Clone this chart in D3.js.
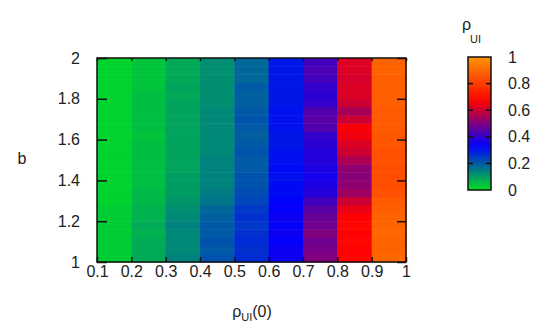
<!DOCTYPE html>
<html>
<head>
<meta charset="utf-8">
<script src="https://cdn.jsdelivr.net/npm/d3@7"></script>
<style>
  body { margin: 0; background: #fff; }
  text { font-family: "Liberation Sans", Arial, sans-serif; fill: #222; }
</style>
</head>
<body>
<svg id="chart" width="540" height="328"></svg>
<script>
// x: rho_UI(0) column starts, y: b row starts (cell height 0.04)
var rho0Values = [0.1, 0.2, 0.3, 0.4, 0.5, 0.6, 0.7, 0.8, 0.9];
var bValues = [1.00, 1.04, 1.08, 1.12, 1.16, 1.20, 1.24, 1.28, 1.32, 1.36, 1.40, 1.44, 1.48,
               1.52, 1.56, 1.60, 1.64, 1.68, 1.72, 1.76, 1.80, 1.84, 1.88, 1.92, 1.96];
// rho_UI, one row per b value (bottom to top), one entry per rho_UI(0) column
var rhoUI = [
  [0.03, 0.08, 0.14, 0.21, 0.27, 0.35, 0.50, 0.68, 0.90],
  [0.03, 0.08, 0.13, 0.20, 0.26, 0.35, 0.49, 0.67, 0.89],
  [0.03, 0.08, 0.13, 0.21, 0.27, 0.34, 0.48, 0.68, 0.89],
  [0.03, 0.07, 0.13, 0.20, 0.26, 0.35, 0.50, 0.67, 0.90],
  [0.03, 0.08, 0.14, 0.20, 0.25, 0.34, 0.48, 0.68, 0.89],
  [0.03, 0.07, 0.13, 0.19, 0.26, 0.35, 0.47, 0.67, 0.89],
  [0.03, 0.07, 0.12, 0.18, 0.25, 0.34, 0.45, 0.64, 0.88],
  [0.02, 0.06, 0.11, 0.16, 0.23, 0.33, 0.42, 0.60, 0.87],
  [0.02, 0.06, 0.10, 0.15, 0.22, 0.32, 0.38, 0.54, 0.85],
  [0.02, 0.05, 0.10, 0.14, 0.21, 0.32, 0.37, 0.52, 0.84],
  [0.02, 0.05, 0.10, 0.14, 0.21, 0.31, 0.36, 0.51, 0.84],
  [0.02, 0.05, 0.09, 0.14, 0.20, 0.32, 0.37, 0.52, 0.84],
  [0.02, 0.05, 0.09, 0.14, 0.20, 0.31, 0.38, 0.56, 0.85],
  [0.02, 0.05, 0.09, 0.13, 0.21, 0.31, 0.38, 0.60, 0.85],
  [0.02, 0.05, 0.09, 0.13, 0.20, 0.30, 0.39, 0.62, 0.86],
  [0.02, 0.04, 0.09, 0.13, 0.19, 0.30, 0.40, 0.65, 0.86],
  [0.02, 0.05, 0.09, 0.13, 0.20, 0.31, 0.44, 0.66, 0.87],
  [0.02, 0.05, 0.09, 0.13, 0.21, 0.31, 0.45, 0.60, 0.87],
  [0.02, 0.05, 0.09, 0.13, 0.20, 0.31, 0.44, 0.55, 0.87],
  [0.02, 0.05, 0.09, 0.12, 0.19, 0.30, 0.40, 0.60, 0.88],
  [0.02, 0.05, 0.08, 0.12, 0.19, 0.30, 0.39, 0.62, 0.88],
  [0.02, 0.04, 0.09, 0.12, 0.20, 0.30, 0.40, 0.62, 0.88],
  [0.02, 0.04, 0.08, 0.12, 0.18, 0.30, 0.42, 0.61, 0.88],
  [0.02, 0.04, 0.08, 0.12, 0.18, 0.30, 0.43, 0.62, 0.89],
  [0.02, 0.04, 0.08, 0.12, 0.18, 0.30, 0.42, 0.62, 0.89]
];
var xTicks = [0.1, 0.2, 0.3, 0.4, 0.5, 0.6, 0.7, 0.8, 0.9, 1];
var yTicks = [1, 1.2, 1.4, 1.6, 1.8, 2];
var cbTicks = [0, 0.2, 0.4, 0.6, 0.8, 1];
var paletteStops = [0, 1 / 3, 2 / 3, 1];
var paletteColors = ["#00e020", "#0000ff", "#ff0000", "#ff9400"];

var svg = d3.select("#chart");
var plotLeft = 97, plotRight = 406, plotTop = 58, plotBottom = 262;

var x = d3.scaleLinear().domain([0.1, 1]).range([plotLeft, plotRight]);
var y = d3.scaleLinear().domain([1, 2]).range([plotBottom, plotTop]);
var color = d3.scaleLinear().domain(paletteStops).range(paletteColors);
var dx = 0.1, db = 0.04;

// cells
var cells = [];
rhoUI.forEach(function (row, i) {
    row.forEach(function (v, j) {
        cells.push({ x: rho0Values[j], b: bValues[i], v: v });
    });
});

svg.append("g").selectAll("rect")
    .data(cells)
    .enter().append("rect")
    .attr("x", d => x(d.x))
    .attr("y", d => y(d.b + db))
    .attr("width", d => x(d.x + dx) - x(d.x) + 0.5)
    .attr("height", d => y(d.b) - y(d.b + db) + 0.5)
    .attr("fill", d => color(d.v));

// axes (ticks inward, mirrored)
var fmt = d => d3.format("")(d);
var g = svg.append("g");
g.append("g").attr("transform", "translate(0," + plotBottom + ")")
    .call(d3.axisBottom(x).tickValues(xTicks).tickSize(-5).tickPadding(4).tickFormat(fmt));
g.append("g").attr("transform", "translate(0," + plotTop + ")")
    .call(d3.axisTop(x).tickValues(xTicks).tickSize(-3).tickFormat(""));
g.append("g").attr("transform", "translate(" + plotLeft + ",0)")
    .call(d3.axisLeft(y).tickValues(yTicks).tickSize(-10).tickPadding(17).tickFormat(fmt));
g.append("g").attr("transform", "translate(" + plotRight + ",0)")
    .call(d3.axisRight(y).tickValues(yTicks).tickSize(-9).tickFormat(""));
g.selectAll(".domain").remove();
g.selectAll(".tick line").attr("stroke", "#111").attr("stroke-width", 1.5);
g.selectAll(".tick text").style("font-size", "16px").attr("fill", "#222");

svg.append("rect")
    .attr("x", plotLeft).attr("y", plotTop)
    .attr("width", plotRight - plotLeft).attr("height", plotBottom - plotTop)
    .attr("fill", "none").attr("stroke", "#111").attr("stroke-width", 1.5);

// axis titles
svg.append("text").attr("x", 22).attr("y", 164).attr("text-anchor", "middle")
    .style("font-size", "16px").text("b");
var xt = svg.append("text").attr("x", 252).attr("y", 317).attr("text-anchor", "middle")
    .style("font-size", "16px");
xt.append("tspan").text("ρ");
xt.append("tspan").attr("dy", 4).style("font-size", "11px").text("UI");
xt.append("tspan").attr("dy", -4).text("(0)");

// colour box
var cbLeft = 468, cbRight = 491, cbTop = 57, cbBottom = 190;
var cy = d3.scaleLinear().domain([0, 1]).range([cbBottom, cbTop]);

var grad = svg.append("defs").append("linearGradient")
    .attr("id", "cbgrad").attr("x1", 0).attr("y1", 1).attr("x2", 0).attr("y2", 0);
grad.selectAll("stop")
    .data(d3.range(0, 1.0001, 0.05))
    .enter().append("stop")
    .attr("offset", d => d)
    .attr("stop-color", d => color(d));

svg.append("rect")
    .attr("x", cbLeft).attr("y", cbTop)
    .attr("width", cbRight - cbLeft).attr("height", cbBottom - cbTop)
    .attr("fill", "url(#cbgrad)").attr("stroke", "#111").attr("stroke-width", 1.5);

var cb = svg.append("g");
cb.append("g").attr("transform", "translate(" + cbRight + ",0)")
    .call(d3.axisRight(cy).tickValues(cbTicks).tickSize(0).tickPadding(17).tickFormat(fmt));
cb.selectAll(".domain").remove();
cb.selectAll(".tick text").style("font-size", "16px").attr("fill", "#222");
cb.append("g").selectAll("line")
    .data(cbTicks.slice(1, -1))
    .enter().append("line")
    .attr("x1", cbLeft).attr("x2", cbLeft + 5)
    .attr("y1", d => cy(d)).attr("y2", d => cy(d))
    .attr("stroke", "#111").attr("stroke-width", 1.5);
cb.append("g").selectAll("line")
    .data(cbTicks.slice(1, -1))
    .enter().append("line")
    .attr("x1", cbRight - 5).attr("x2", cbRight)
    .attr("y1", d => cy(d)).attr("y2", d => cy(d))
    .attr("stroke", "#111").attr("stroke-width", 1.5);

var ct = svg.append("text").attr("x", 462).attr("y", 30).style("font-size", "16px");
ct.append("tspan").text("ρ");
ct.append("tspan").attr("dy", 13).attr("dx", -1).style("font-size", "11px").text("UI");
</script>
</body>
</html>
